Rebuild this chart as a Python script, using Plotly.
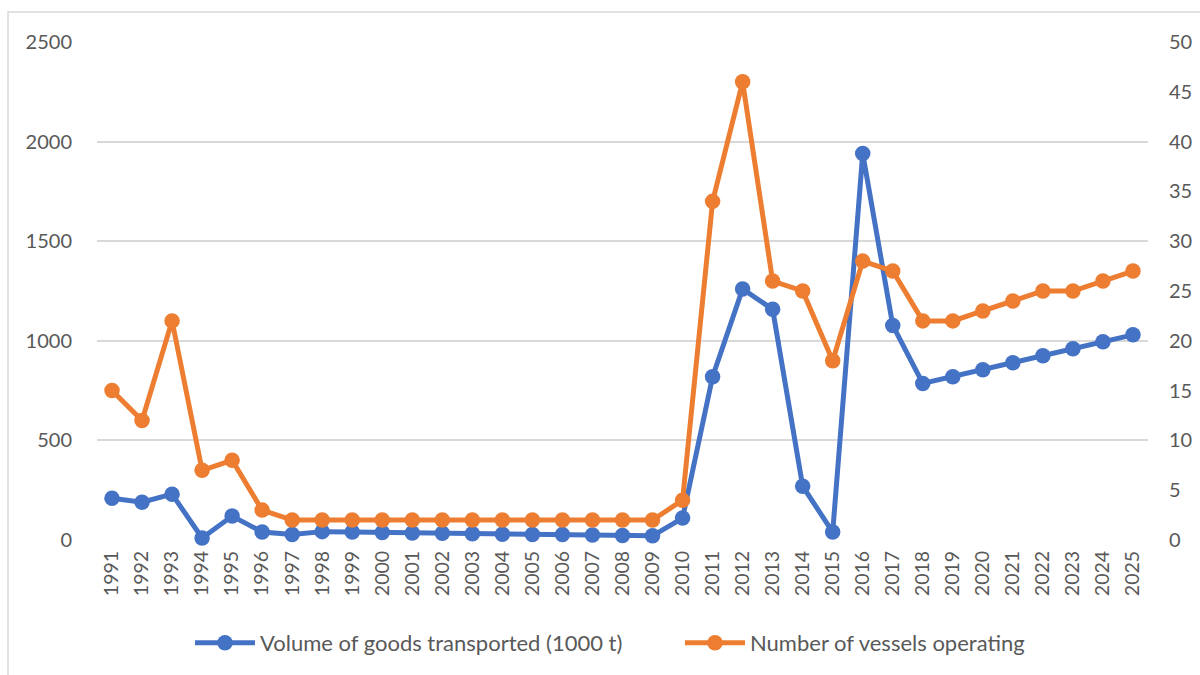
import plotly.graph_objects as go

years = [str(y) for y in range(1991, 2026)]
volume = [210, 190, 230, 10, 120, 40, 28, 42, 40, 38, 35, 34, 31, 29, 28, 27, 25, 23, 21,
          110, 820, 1260, 1158, 270, 40, 1940, 1077, 786, 820, 855, 890, 925, 960, 995, 1030]
vessels = [15, 12, 22, 7, 8, 3, 2, 2, 2, 2, 2, 2, 2, 2, 2, 2, 2, 2, 2,
           4, 34, 46, 26, 25, 18, 28, 27, 22, 22, 23, 24, 25, 25, 26, 27]
left_ticks = [0, 500, 1000, 1500, 2000, 2500]
right_ticks = [0, 5, 10, 15, 20, 25, 30, 35, 40, 45, 50]

BLUE = "#4472C4"
ORANGE = "#ED7D31"
TXT = "#595959"
FONT = "Lato"

PW, PH = 1051, 498

fig = go.Figure()
fig.add_trace(go.Scatter(x=years, y=volume, name="Volume of goods transported (1000 t)",
                         mode="lines+markers", line=dict(color=BLUE, width=5),
                         marker=dict(color=BLUE, size=15.5), yaxis="y", cliponaxis=False))
fig.add_trace(go.Scatter(x=years, y=vessels, name="Number of vessels operating",
                         mode="lines+markers", line=dict(color=ORANGE, width=5),
                         marker=dict(color=ORANGE, size=15.5), yaxis="y2", cliponaxis=False))

fig.update_layout(
    width=1200, height=675,
    margin=dict(l=97, r=52, t=42, b=135, autoexpand=False),
    paper_bgcolor="white", plot_bgcolor="white",
    font=dict(family=FONT, size=20, color=TXT),
    showlegend=True,
    legend=dict(orientation="h", x=(190 - 97) / PW, xanchor="left",
                y=-103 / PH, yanchor="middle",
                font=dict(family=FONT, size=22, color=TXT), itemwidth=60,
                entrywidth=415, entrywidthmode="pixels",
                traceorder="normal"),
    xaxis=dict(type="category", range=[-0.5, 34.5], tickangle=-90,
               showgrid=False, zeroline=False, showline=False, ticks="",
               automargin=False, ticklabelstandoff=6,
               tickfont=dict(family=FONT, size=19.5, color=TXT)),
    yaxis=dict(range=[0, 2500], tickvals=left_ticks, showgrid=True, gridcolor="#D9D9D9",
               gridwidth=1.5, zeroline=False, ticks="", automargin=False,
               ticklabelstandoff=24,
               tickfont=dict(family=FONT, size=20, color=TXT)),
    yaxis2=dict(range=[0, 50], tickvals=right_ticks, overlaying="y", side="right",
                showgrid=False, zeroline=False, ticks="", automargin=False,
                ticklabelstandoff=20,
                tickfont=dict(family=FONT, size=20, color=TXT)),
    shapes=[dict(type="rect", xref="paper", yref="paper",
                 x0=-89 / PW, x1=1 + 70 / PW, y0=-150 / PH, y1=1 + 30 / PH,
                 line=dict(color="#D9D9D9", width=1.5), fillcolor="rgba(0,0,0,0)",
                 layer="below")],
)

fig.write_html("out.html", config={"displayModeBar": False},
               post_script="document.body.style.margin='0';document.body.style.overflow='hidden';")
